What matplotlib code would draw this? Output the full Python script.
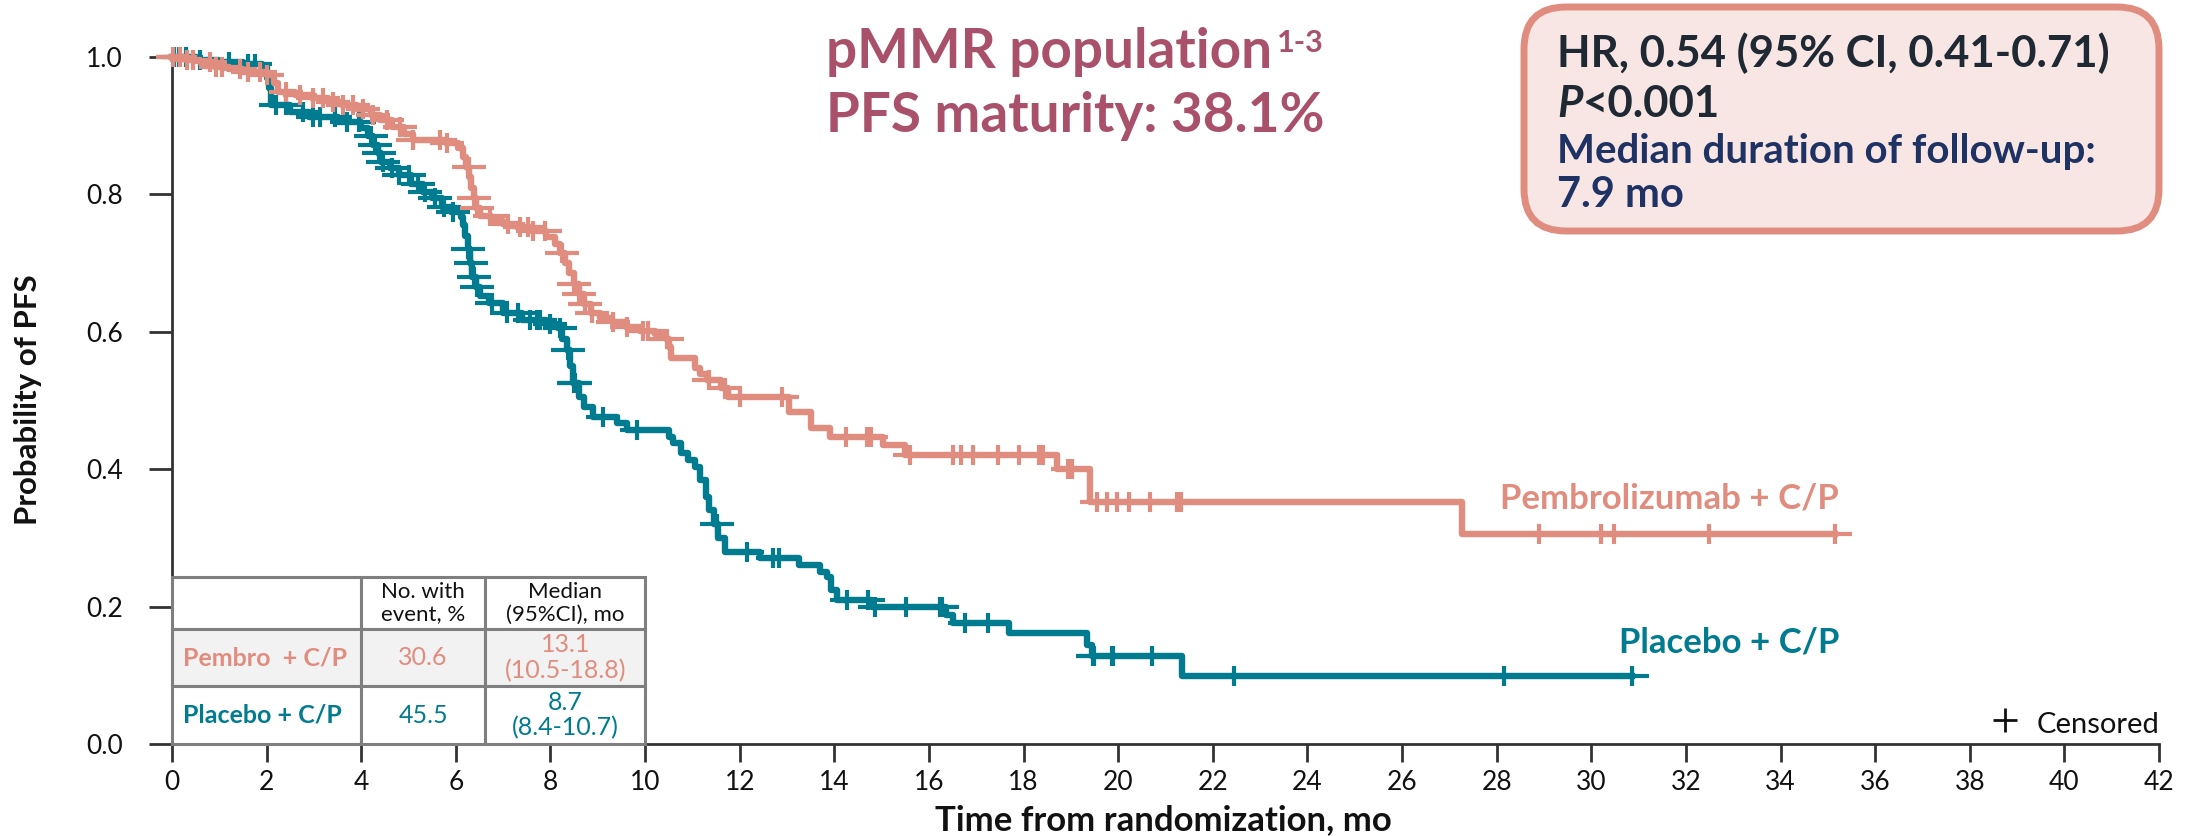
import numpy as np
import matplotlib
matplotlib.use("Agg")
import matplotlib.pyplot as plt
from matplotlib.path import Path
from matplotlib.patches import FancyBboxPatch, Rectangle
from matplotlib.text import Annotation

plt.rcParams['font.family'] = ['Lato', 'DejaVu Sans']

# ---- Kaplan-Meier data (time in months, probability after each event) ----
pembro_t = [0, 0.3, 0.6, 0.9, 1.2, 1.5, 2.0, 2.15, 2.25, 2.6,
            2.95, 3.3, 3.6, 3.9, 4.2, 4.4, 4.65, 4.9, 5.1, 5.8,
            6.05, 6.15, 6.22, 6.28, 6.33, 6.38, 6.43, 6.5, 6.75, 7.0,
            7.3, 7.6, 7.9, 8.1, 8.2, 8.3, 8.4, 8.5, 8.6, 8.7,
            8.85, 9.05, 9.3, 9.6, 9.9, 10.2, 10.45, 10.5, 10.55, 11.05,
            11.15, 11.3, 11.6, 11.75, 13.05, 13.5, 13.9, 15.03, 15.5, 18.7,
            19.4, 27.27]
pembro_s = [1.0, 0.996, 0.992, 0.986, 0.982, 0.978, 0.974, 0.962, 0.949, 0.944,
            0.940, 0.935, 0.930, 0.924, 0.916, 0.908, 0.898, 0.888, 0.879, 0.875,
            0.868, 0.855, 0.84, 0.825, 0.81, 0.795, 0.78, 0.768, 0.762, 0.757,
            0.752, 0.746, 0.738, 0.728, 0.715, 0.70, 0.685, 0.67, 0.655, 0.64,
            0.628, 0.62, 0.614, 0.607, 0.601, 0.597, 0.59, 0.578, 0.562, 0.548,
            0.538, 0.53, 0.518, 0.505, 0.483, 0.46, 0.447, 0.435, 0.421, 0.40,
            0.352, 0.306]
pembro_end = 35.15
pembro_censor = [0.03, 0.17, 0.31, 0.45, 0.8, 0.94, 1.05, 1.44, 1.61, 1.86,
                 2.0, 2.42, 2.71, 2.99, 3.2, 3.41, 3.62, 3.83, 4.04, 4.25,
                 4.54, 4.82, 5.1, 5.66, 5.81, 6.27, 6.39, 6.44, 6.72, 7.1,
                 7.36, 7.53, 7.63, 7.88, 8.25, 8.5, 8.6, 8.72, 8.88, 9.32,
                 9.62, 9.96, 10.06, 10.46, 11.35, 11.69, 12.0, 12.9, 14.25, 14.7,
                 14.77, 15.6, 16.5, 16.67, 16.93, 17.46, 17.9, 18.33, 18.41, 18.94,
                 19.02, 19.55, 19.76, 19.98, 20.23, 20.67, 21.24, 21.33, 28.9, 30.2,
                 30.48, 32.49, 35.15]

placebo_t = [0, 0.5, 1.0, 1.5, 1.9, 2.0, 2.05, 2.1, 2.5, 2.9,
             3.5, 4.0, 4.15, 4.25, 4.35, 4.42, 4.6, 4.8, 5.05, 5.3,
             5.5, 5.7, 5.9, 6.1, 6.15, 6.2, 6.25, 6.3, 6.35, 6.42,
             6.5, 6.7, 7.0, 7.4, 7.9, 8.15, 8.25, 8.35, 8.42, 8.48,
             8.6, 8.7, 8.9, 9.4, 9.62, 10.5, 10.6, 10.75, 10.9, 11.05,
             11.15, 11.29, 11.35, 11.45, 11.55, 11.68, 12.43, 13.25, 13.7, 13.85,
             13.92, 14.05, 14.8, 16.35, 16.5, 17.7, 19.35, 19.45, 21.35]
placebo_s = [1.0, 0.996, 0.993, 0.99, 0.985, 0.97, 0.955, 0.93, 0.92, 0.913,
             0.905, 0.897, 0.885, 0.872, 0.86, 0.847, 0.838, 0.828, 0.815, 0.803,
             0.795, 0.782, 0.775, 0.767, 0.755, 0.74, 0.72, 0.70, 0.68, 0.665,
             0.652, 0.642, 0.628, 0.617, 0.612, 0.605, 0.59, 0.574, 0.55, 0.525,
             0.505, 0.491, 0.476, 0.467, 0.457, 0.447, 0.438, 0.424, 0.413, 0.403,
             0.384, 0.36, 0.34, 0.32, 0.30, 0.279, 0.271, 0.26, 0.25, 0.243,
             0.224, 0.21, 0.2, 0.188, 0.176, 0.161, 0.144, 0.128, 0.099]
placebo_end = 30.86
placebo_censor = [0.05, 0.15, 0.3, 0.6, 1.2, 1.6, 1.75, 2.2, 2.42, 2.77,
                  2.99, 3.13, 3.45, 3.7, 3.95, 4.2, 4.3, 4.38, 4.45, 4.65,
                  4.8, 5.0, 5.2, 5.35, 5.55, 5.75, 5.95, 6.26, 6.33, 6.38,
                  6.44, 6.76, 7.08, 7.31, 7.57, 7.71, 7.78, 7.99, 8.2, 8.36,
                  8.49, 8.52, 9.11, 9.83, 11.52, 12.15, 12.7, 12.83, 14.27, 14.71,
                  14.86, 15.51, 16.23, 16.27, 16.76, 17.25, 19.46, 19.49, 19.87, 19.89,
                  20.71, 22.45, 28.15, 30.86]

x_ticks = list(range(0, 43, 2))
y_ticks = [0.0, 0.2, 0.4, 0.6, 0.8, 1.0]

table_header = ["", "No. with\nevent, %", "Median\n(95%CI), mo"]
table_pembro = ["Pembro  + C/P", "30.6", "13.1\n(10.5-18.8)"]
table_placebo = ["Placebo + C/P", "45.5", "8.7\n(8.4-10.7)"]

# ---- colours ----
SALMON = "#E08D7F"
TEAL = "#007B8F"
MAUVE = "#A9506B"
DARK = "#1F2933"
NAVY = "#1E3264"
AXIS = "#333333"

W, H = 2194, 836
fig = plt.figure(figsize=(W / 100, H / 100), dpi=100)
fig.patch.set_facecolor("white")


def px(x, y):
    """Pixel position (from top-left) to figure fraction."""
    return x / W, 1 - y / H


ax = fig.add_axes([172 / W, 1 - 744 / H, (2159 - 172) / W, (744 - 57) / H])
ax.set_xlim(0, 42)
ax.set_ylim(0, 1)

# censor mark: wide horizontal arm, shorter vertical arm
censor_mark = Path([(-1, 0), (1, 0), (0, -0.62), (0, 0.62)],
                   [Path.MOVETO, Path.LINETO, Path.MOVETO, Path.LINETO])


def surv_at(t, times, surv):
    idx = np.searchsorted(np.asarray(times), t, side="right") - 1
    return np.asarray(surv)[idx]


def draw_km(times, surv, end, censor, color):
    xs = list(times) + [end]
    ys = list(surv) + [surv[-1]]
    ax.step(xs, ys, where="post", color=color, lw=4.6,
            solid_joinstyle="round", clip_on=False, zorder=3)
    cy = surv_at(np.asarray(censor), times, surv)
    ax.plot(censor, cy, ls="none", marker=censor_mark, ms=24, mew=3.0,
            mec=color, mfc="none", clip_on=False, zorder=3)


draw_km(placebo_t, placebo_s, placebo_end, placebo_censor, TEAL)
draw_km(pembro_t, pembro_s, pembro_end, pembro_censor, SALMON)

# ---- axes styling ----
for side in ("top", "right"):
    ax.spines[side].set_visible(False)
for side in ("left", "bottom"):
    ax.spines[side].set_color(AXIS)
    ax.spines[side].set_linewidth(2.0)
ax.set_xticks(x_ticks)
ax.set_xticklabels([str(v) for v in x_ticks])
ax.set_yticks(y_ticks)
ax.set_yticklabels([f"{v:.1f}" for v in y_ticks])
ax.tick_params(axis="y", direction="out", length=16.5, width=2.0, color=AXIS,
               pad=19, labelsize=19, labelcolor="#111111")
ax.tick_params(axis="x", direction="out", length=13, width=2.0, color=AXIS,
               pad=6, labelsize=19, labelcolor="#111111")

fig.text(*px(28, 400), "Probability of PFS", rotation=90, ha="center",
         va="center", fontsize=22.5, fontweight="bold", color="#111111")
fig.text(*px(1163, 830), "Time from randomization, mo", ha="center",
         va="baseline", fontsize=25, fontweight="bold", color="#111111")

# ---- title ----
fig.text(*px(1272, 68), "pMMR population", ha="right", va="baseline",
         fontsize=39.5, fontweight="bold", color=MAUVE)
fig.text(*px(1277, 52), "1-3", ha="left", va="baseline",
         fontsize=22, fontweight="bold", color=MAUVE)
fig.text(*px(1324, 132), "PFS maturity: 38.1%", ha="right", va="baseline",
         fontsize=39.5, fontweight="bold", color=MAUVE)

# ---- HR box ----
box = FancyBboxPatch((15.24, (H - 231) / 100), 6.35, 2.24,
                     boxstyle="round,pad=0,rounding_size=0.42",
                     transform=fig.dpi_scale_trans, facecolor="#F8E6E4",
                     edgecolor=SALMON, lw=5, zorder=1)
fig.patches.append(box)
BOX_FS = 31.5
fig.text(*px(1557, 67), "HR, 0.54 (95% CI, 0.41-0.71)", ha="left",
         va="baseline", fontsize=BOX_FS, fontweight="bold", color=DARK)
ptxt = fig.text(*px(1557, 117), "P", ha="left", va="baseline", fontsize=BOX_FS,
                fontweight="bold", fontstyle="italic", color=DARK)
fig.add_artist(Annotation("<0.001", xy=(1, 0), xycoords=ptxt,
                          ha="left", va="bottom", fontsize=BOX_FS,
                          fontweight="bold", color=DARK))
fig.text(*px(1557, 163), "Median duration of follow-up:", ha="left",
         va="baseline", fontsize=29, fontweight="bold", color=NAVY)
fig.text(*px(1557, 207), "7.9 mo", ha="left", va="baseline", fontsize=30,
         fontweight="bold", color=NAVY)

# ---- curve labels ----
ax.text(35.24, 0.3435, "Pembrolizumab + C/P", ha="right", va="baseline",
        fontsize=25, fontweight="bold", color=SALMON)
ax.text(35.24, 0.1325, "Placebo + C/P", ha="right", va="baseline",
        fontsize=25, fontweight="bold", color=TEAL)
ax.plot([38.74], [0.035], marker="+", ms=17, mew=2.0, color="#111111",
        clip_on=False)
ax.text(42, 0.016, "Censored", ha="right", va="baseline", fontsize=21,
        color="#111111")

# ---- summary table ----
col_edges = [0, 4.0, 6.62, 10.0]
row_edges = [0.243, 0.167, 0.084, 0.0]
rows = [table_header, table_pembro, table_placebo]
row_colors = ["#111111", SALMON, TEAL]
row_fill = ["white", "#F2F2F2", "white"]
for r, cells in enumerate(rows):
    y0, y1 = row_edges[r + 1], row_edges[r]
    for c, txt in enumerate(cells):
        x0, x1 = col_edges[c], col_edges[c + 1]
        ax.add_patch(Rectangle((x0, y0), x1 - x0, y1 - y0, facecolor=row_fill[r],
                               edgecolor="#7F7F7F", lw=2.2, clip_on=False,
                               zorder=4))
        if not txt:
            continue
        ym = (y0 + y1) / 2
        if c == 0:
            ax.text(0.23, ym, txt, ha="left", va="center", fontsize=18,
                    fontweight="bold", color=row_colors[r], zorder=5)
        else:
            size = 16 if r == 0 else 18
            ax.text((x0 + x1) / 2, ym, txt, ha="center", va="center",
                    fontsize=size, color=row_colors[r], linespacing=1.15,
                    zorder=5)

fig.savefig("out.png", dpi=100, facecolor="white")
